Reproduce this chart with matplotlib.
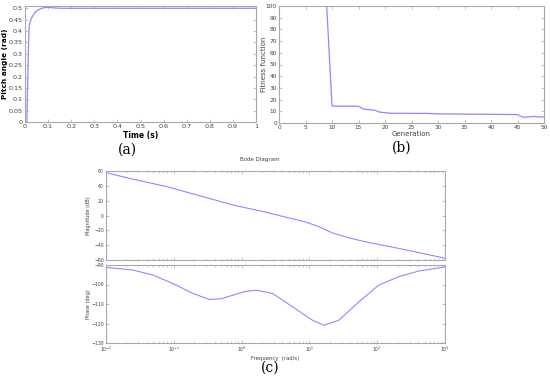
import numpy as np
import matplotlib
matplotlib.use('Agg')
import matplotlib.pyplot as plt
from matplotlib.ticker import LogLocator, NullFormatter

# (a) step response of pitch angle
t_step = [0, 0.008, 0.01, 0.015, 0.018, 0.022, 0.03, 0.04, 0.05, 0.06, 0.07, 0.08, 0.1, 0.12, 0.15, 1.0]
pitch = [0, 0, 0.1, 0.33, 0.42, 0.44, 0.46, 0.477, 0.488, 0.495, 0.499, 0.502, 0.504, 0.502, 0.5, 0.5]

# (b) GA convergence
generation = [0, 9, 10, 15, 16, 18, 19, 21, 28, 30, 45, 46, 47, 48, 50]
fitness = [100, 100, 14.5, 14.3, 11.8, 11, 9.3, 8.3, 8.2, 7.8, 7.2, 5, 5.2, 5.6, 5]

# (c) Bode diagram (log10 of frequency in rad/s)
log_w = [-2, -1.6, -1.11, -0.62, -0.13, 0.36, 0.65, 0.95, 1.15, 1.34, 1.6, 1.83, 2.32, 3.0]
mag_db = [57.7, 48.9, 39.1, 26.7, 14.2, 4.4, -2.2, -8.9, -15.5, -23.6, -30.5, -35.6, -44.4, -57.5]
log_wp = [-2, -1.6, -1.305, -1.012, -0.718, -0.473, -0.3, -0.131, 0.05, 0.213, 0.457, 0.75,
          1.044, 1.216, 1.436, 1.73, 2.023, 2.317, 2.611, 3.0]
phase = [-91.2, -92.6, -95.2, -99.5, -104.6, -107.7, -107.3, -105.5, -103.6, -102.9, -104.6,
         -111.4, -118.3, -120.9, -118.3, -108.9, -100.3, -96, -93.1, -91.0]

blue = '#8a8aff'
frame = '#a8a8a8'
txt = '#404040'


def style(ax, size=4.6):
    for s in ax.spines.values():
        s.set_color(frame)
        s.set_linewidth(0.8)
    ax.tick_params(direction='in', top=True, right=True, length=2.5, width=0.5,
                   colors=frame, labelcolor=txt, labelsize=size, pad=1.5)
    ax.tick_params(which='minor', direction='in', top=True, right=True, length=1.5,
                   width=0.4, colors=frame)


fig = plt.figure(figsize=(5.5, 3.76), dpi=100)

# (a)
ax1 = fig.add_axes([25 / 550, 1 - 122 / 376, 231 / 550, 116 / 376])
ax1.plot(t_step, pitch, color=blue, lw=0.9)
ax1.set_xlim(0, 1)
ax1.set_ylim(0, 0.51)
ax1.set_xticks(np.arange(0, 1.01, 0.1))
ax1.set_yticks(np.arange(0, 0.501, 0.05))
ax1.set_xticklabels(['0', '0.1', '0.2', '0.3', '0.4', '0.5', '0.6', '0.7', '0.8', '0.9', '1'])
ax1.set_yticklabels(['0', '0.05', '0.1', '0.15', '0.2', '0.25', '0.3', '0.35', '0.4', '0.45', '0.5'])
style(ax1)
ax1.set_xlabel('Time (s)', fontsize=5.5, fontweight='bold', labelpad=1.5)
ax1.set_ylabel('Pitch angle (rad)', fontsize=5.3, fontweight='bold')
ax1.yaxis.set_label_coords(-0.075, 0.5)

# (b)
ax2 = fig.add_axes([279 / 550, 1 - 123 / 376, 265 / 550, 117 / 376])
ax2.plot(generation, fitness, color=blue, lw=0.9)
ax2.set_xlim(0, 50)
ax2.set_ylim(0, 100)
ax2.set_xticks(np.arange(0, 51, 5))
ax2.set_yticks(np.arange(0, 101, 10))
style(ax2, 4.2)
ax2.set_xlabel('Generation', fontsize=5, labelpad=1, color=txt)
ax2.set_ylabel('Fitness function', fontsize=5, color=txt)
ax2.yaxis.set_label_coords(-0.045, 0.5)

# (c) magnitude
ax3 = fig.add_axes([106 / 550, 1 - 260 / 376, 339 / 550, 89 / 376])
ax3.plot(10 ** np.array(log_w), mag_db, color=blue, lw=0.8)
ax3.set_xscale('log')
ax3.set_xlim(0.01, 1000)
ax3.set_ylim(-60, 60)
ax3.set_yticks(np.arange(-60, 61, 20))
ax3.xaxis.set_minor_locator(LogLocator(base=10, subs=np.arange(2, 10)))
ax3.xaxis.set_minor_formatter(NullFormatter())
ax3.set_xticklabels([])
style(ax3, 3.3)
ax3.set_ylabel('Magnitude (dB)', fontsize=3.6, color=txt)
ax3.yaxis.set_label_coords(-0.045, 0.5)
fig.text(260 / 550, 1 - 160 / 376, 'Bode Diagram', fontsize=4, color=txt, ha='center', va='center')

# (c) phase
ax4 = fig.add_axes([106 / 550, 1 - 343 / 376, 339 / 550, 78 / 376])
ax4.plot(10 ** np.array(log_wp), phase, color=blue, lw=0.8)
ax4.set_xscale('log')
ax4.set_xlim(0.01, 1000)
ax4.set_ylim(-130, -90)
ax4.set_yticks(np.arange(-130, -89, 10))
ax4.xaxis.set_minor_locator(LogLocator(base=10, subs=np.arange(2, 10)))
ax4.xaxis.set_minor_formatter(NullFormatter())
style(ax4, 3.3)
ax4.set_xlabel('Frequency  (rad/s)', fontsize=3.8, labelpad=1, color=txt)
ax4.set_ylabel('Phase (deg)', fontsize=3.6, color=txt)
ax4.yaxis.set_label_coords(-0.045, 0.5)

# panel captions
cap = dict(fontsize=10, family='DejaVu Serif', ha='center', va='center')
fig.text(127 / 550, 1 - 150 / 376, '(a)', **cap)
fig.text(402 / 550, 1 - 148 / 376, '(b)', **cap)
fig.text(270 / 550, 1 - 368 / 376, '(c)', **cap)

fig.savefig('out.png', dpi=100)
